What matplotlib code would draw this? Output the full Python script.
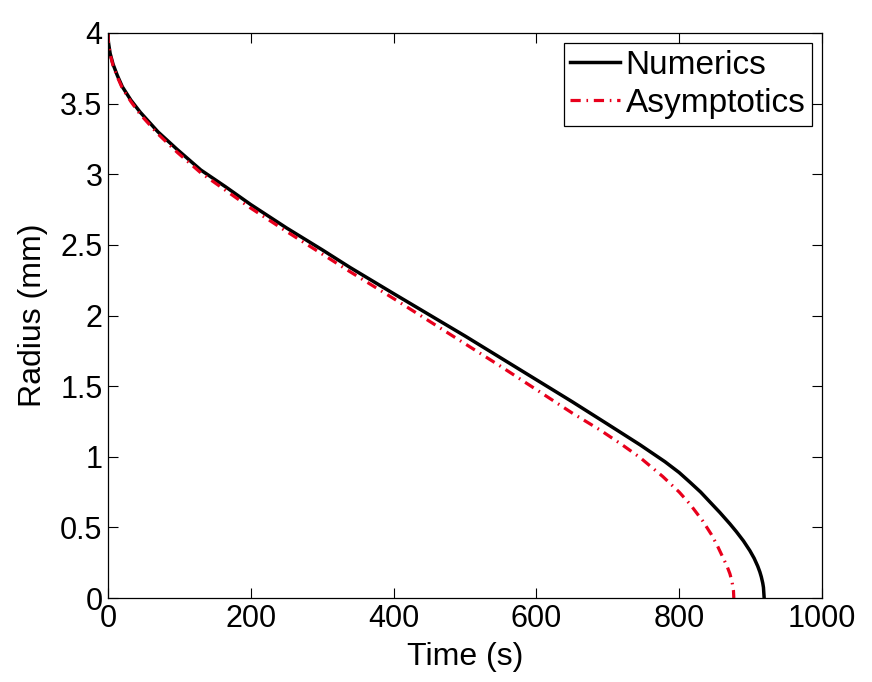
import matplotlib
matplotlib.use("Agg")
import matplotlib.pyplot as plt

plt.rcParams['font.family'] = ['Liberation Sans', 'DejaVu Sans']

# Numerics (black solid)
t_num = [0, 0.25, 0.5, 1, 3, 7, 13, 20, 32, 45, 70, 97, 130, 165, 200, 250,
         300, 339, 400, 450, 500, 550, 600, 650, 700, 745, 780, 800, 815,
         830, 843, 857, 871, 880, 890, 899, 905, 910, 913, 915, 917, 918,
         919]
r_num = [4.0, 3.96, 3.94, 3.92, 3.855, 3.78, 3.70, 3.62, 3.525, 3.44, 3.30,
         3.175, 3.03, 2.91, 2.785, 2.62, 2.465, 2.34, 2.155, 2.005, 1.855,
         1.70, 1.545, 1.39, 1.23, 1.085, 0.965, 0.888, 0.82, 0.75, 0.68,
         0.605, 0.525, 0.47, 0.404, 0.335, 0.281, 0.225, 0.184, 0.15, 0.106,
         0.075, 0.0]

# Asymptotics (red dash-dot)
t_asy = [0, 0.25, 0.5, 1, 3, 7, 13, 20, 32, 45, 70, 97, 130, 165, 200, 250,
         300, 339, 400, 450, 500, 550, 600, 650, 689, 720, 745, 777, 800,
         815, 833, 845, 853, 860, 867, 871, 874, 876, 876.5]
r_asy = [4.0, 3.955, 3.935, 3.915, 3.85, 3.77, 3.69, 3.61, 3.515, 3.425,
         3.285, 3.155, 3.01, 2.885, 2.76, 2.595, 2.435, 2.31, 2.12, 1.96,
         1.80, 1.64, 1.475, 1.31, 1.19, 1.085, 0.995, 0.86, 0.75, 0.665,
         0.545, 0.45, 0.375, 0.30, 0.225, 0.172, 0.115, 0.052, 0.0]

x_ticks = [0, 200, 400, 600, 800, 1000]
y_ticks = [0, 0.5, 1, 1.5, 2, 2.5, 3, 3.5, 4]
y_tick_labels = ['0', '0.5', '1', '1.5', '2', '2.5', '3', '3.5', '4']

fig = plt.figure(figsize=(8.72, 6.82), dpi=100)
ax = fig.add_axes([108/872, 84/682, 714/872, 565/682])

ax.plot(t_num, r_num, color='black', lw=2.5, label='Numerics')
ax.plot(t_asy, r_asy, color='#e8001c', lw=2.3,
        linestyle=(0, (3.2, 1.8, 0.5, 1.8)), label='Asymptotics')

ax.set_xlim(0, 1000)
ax.set_ylim(0, 4)
ax.set_xticks(x_ticks)
ax.set_yticks(y_ticks)
ax.set_yticklabels(y_tick_labels)
ax.tick_params(direction='in', length=7, width=0.8, top=True, right=True,
               labelsize=22, pad=4)
for s in ax.spines.values():
    s.set_linewidth(0.9)

ax.set_xlabel('Time (s)', fontsize=23, labelpad=6)
ax.set_ylabel('Radius (mm)', fontsize=23, labelpad=9)

leg = ax.legend(loc='upper right', fontsize=24, frameon=True, fancybox=False,
                edgecolor='black', framealpha=1, handlelength=1.5,
                handletextpad=0.15, borderpad=0.2, labelspacing=0.22,
                borderaxespad=0.3)
leg.get_frame().set_linewidth(0.9)

fig.savefig('out.png', dpi=100)
